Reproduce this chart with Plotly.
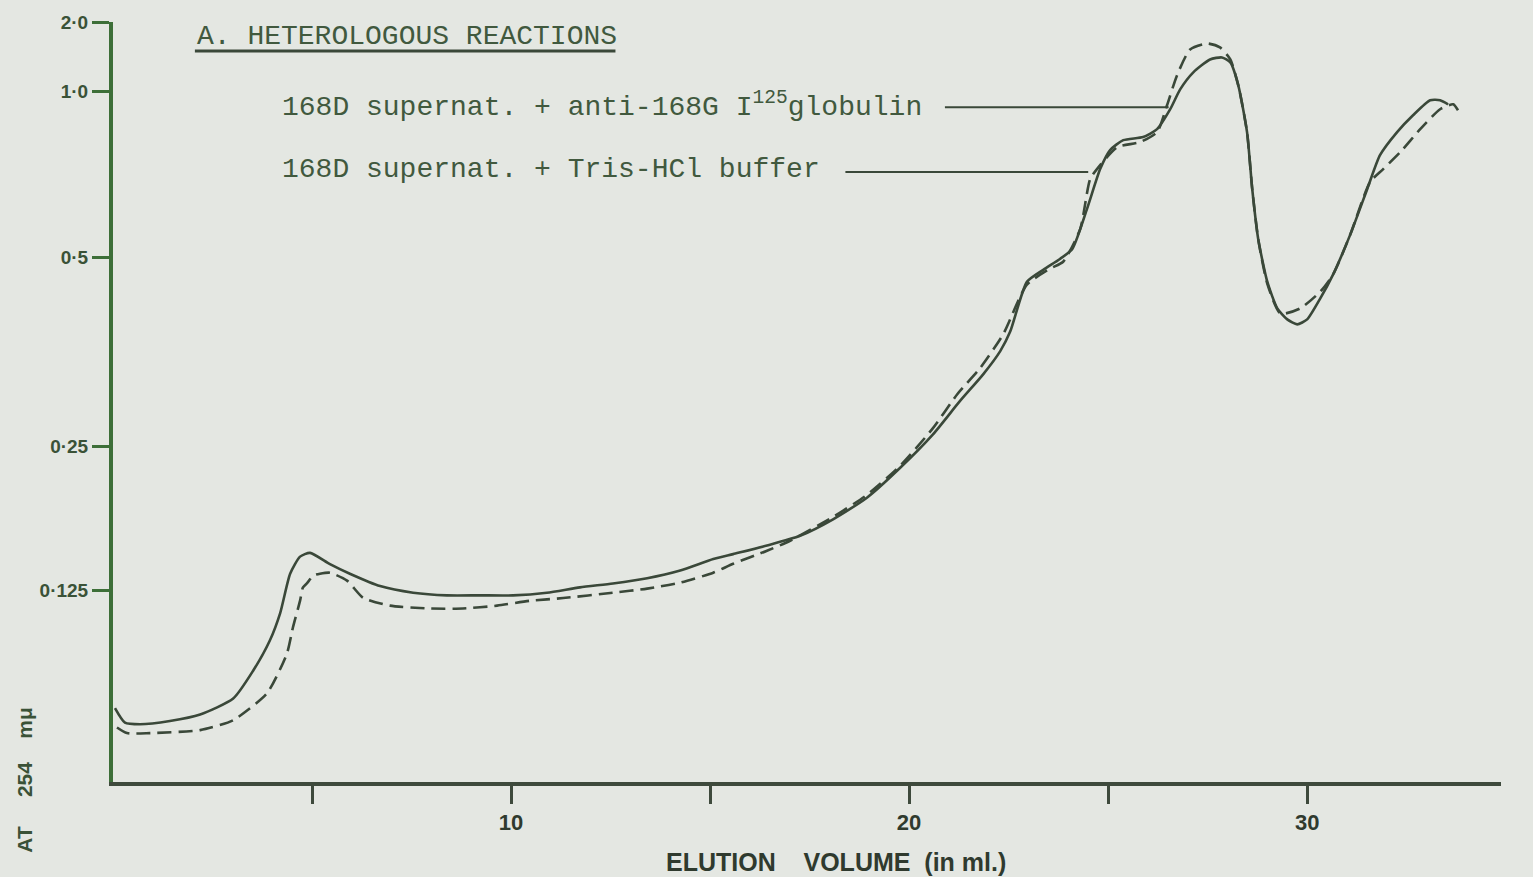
import numpy as np
import plotly.graph_objects as go

# ---- data (elution volume in ml, absorbance at 254 mμ) ----
vol_globulin = [0.05, 0.30, 0.68, 1.43, 2.19, 3.02, 3.52, 3.94, 4.20, 4.45, 4.70, 4.95, 5.45, 5.95,
                6.71, 7.54, 8.39, 9.22, 10.05, 10.90, 11.73, 12.56, 13.42, 14.25, 15.08, 15.58,
                16.43, 17.26, 18.09, 18.94, 19.77, 20.60, 21.28, 21.86, 22.29, 22.54, 22.96, 23.37,
                23.79, 24.10, 24.47, 24.80, 25.05, 25.38, 25.88, 26.23, 26.56, 26.81, 27.14, 27.56,
                27.86, 28.07, 28.27, 28.49, 28.62, 28.77, 29.00, 29.25, 29.50, 29.75, 30.00, 30.33,
                30.65, 31.08, 31.51, 31.83, 32.26, 32.66, 33.09, 33.34, 33.54]
abs_globulin = [0.044, 0.035, 0.034, 0.036, 0.040, 0.050, 0.068, 0.0885, 0.108, 0.1375, 0.151, 0.154,
                0.145, 0.1375, 0.128, 0.123, 0.121, 0.121, 0.121, 0.123, 0.127, 0.130, 0.134, 0.140,
                0.149, 0.153, 0.160, 0.168, 0.182, 0.201, 0.2285, 0.262, 0.298, 0.329, 0.358, 0.384,
                0.458, 0.478, 0.497, 0.515, 0.5965, 0.696, 0.753, 0.786, 0.797, 0.826, 0.909, 1.011,
                1.123, 1.233, 1.253, 1.205, 1.035, 0.815, 0.6435, 0.534, 0.458, 0.417, 0.401, 0.394,
                0.401, 0.432, 0.470, 0.542, 0.6435, 0.737, 0.815, 0.882, 0.952, 0.952, 0.932]

vol_buffer = [0.10, 0.35, 0.93, 2.19, 3.02, 3.87, 4.37, 4.52, 4.70, 4.77, 4.87, 5.03, 5.20, 5.45,
              5.88, 6.28, 6.96, 7.96, 8.79, 9.65, 10.48, 11.31, 12.56, 13.42, 14.25, 15.08, 15.58,
              16.43, 17.01, 18.09, 18.94, 19.77, 20.60, 21.21, 21.78, 22.36, 22.96, 23.54, 23.87,
              24.30, 24.55, 24.80, 25.23, 25.80, 26.23, 26.48, 26.73, 27.06, 27.49, 27.81, 28.07,
              28.27, 28.49, 28.62, 28.77, 29.00, 29.33, 29.82, 30.33, 30.65, 31.08, 31.58, 31.91,
              32.34, 32.84, 33.34, 33.67, 33.79]
abs_buffer = [0.032, 0.0286, 0.0286, 0.0304, 0.0365, 0.0534, 0.0796, 0.0976, 0.1171, 0.1268, 0.130,
              0.136, 0.1375, 0.1383, 0.1322, 0.1193, 0.1134, 0.1113, 0.1113, 0.1134, 0.117, 0.119,
              0.123, 0.1261, 0.1306, 0.1383, 0.1453, 0.1557, 0.1639, 0.184, 0.2035, 0.2304, 0.2685,
              0.3056, 0.3363, 0.380, 0.4535, 0.480, 0.492, 0.554, 0.669, 0.7075, 0.7626, 0.7793,
              0.815, 0.9275, 1.101, 1.342, 1.424, 1.368, 1.233, 1.035, 0.815, 0.6435, 0.534, 0.455,
              0.4094, 0.4167, 0.4425, 0.470, 0.542, 0.661, 0.696, 0.7466, 0.8258, 0.9088, 0.932, 0.904]

y_tick_abs = [2.0, 1.0, 0.5, 0.25, 0.125]
y_tick_text = ["2·0", "1·0", "0·5", "0·25", "0·125"]
x_major_ticks = [10, 20, 30]
x_major_text = ["10", "20", "30"]

label_globulin = "168D supernat. + anti-168G I<sup>125</sup>globulin"
label_buffer = "168D supernat. + Tris-HCl buffer"
title_text = "A. HETEROLOGOUS REACTIONS"

# label anchor positions (absorbance level of each label and where its leader meets the curve)
label_abs = [0.918, 0.688]
leader_start_x = [20.9, 18.4]
leader_end_x = [26.52, 24.5]


# The absorbance scale is linear in transmittance (T = 10^-A)
def to_T(a):
    return 10.0 ** (-np.asarray(a, dtype=float))


bg = "#e4e7e2"
axis_col = "#3d6f38"
ink = "#3a4839"
text_col = "#41593e"
mono = "Liberation Mono, Courier New, monospace"
sans = "Liberation Sans, Arial, sans-serif"

fig = go.Figure()
fig.add_trace(go.Scatter(x=vol_globulin, y=to_T(abs_globulin), mode="lines",
                         line=dict(color=ink, width=2.6, shape="spline", smoothing=0.6),
                         hoverinfo="skip", showlegend=False))
fig.add_trace(go.Scatter(x=vol_buffer, y=to_T(abs_buffer), mode="lines",
                         line=dict(color=ink, width=2.6, dash="14px,7px", shape="spline", smoothing=0.6),
                         hoverinfo="skip", showlegend=False))

for lab, a, xs, xe in zip([label_globulin, label_buffer], label_abs, leader_start_x, leader_end_x):
    t = float(to_T(a))
    fig.add_shape(type="line", xref="x", yref="y", x0=xs, x1=xe, y0=t, y1=t,
                  line=dict(color=ink, width=2))
    fig.add_annotation(text=lab, xref="x", yref="y", x=4.2, y=t,
                       xanchor="left", yanchor="middle", showarrow=False, yshift=2,
                       font=dict(family=mono, size=28, color=text_col))

# title with underline
fig.add_annotation(text=title_text, xref="paper", yref="paper", x=0.059, y=0.981,
                   xanchor="left", yanchor="middle", showarrow=False,
                   font=dict(family=mono, size=28, color=text_col))
fig.add_shape(type="line", xref="paper", yref="paper", x0=0.059, x1=0.362, y0=0.962, y1=0.962,
              line=dict(color=ink, width=3))

# axis titles
fig.add_annotation(text="ELUTION&nbsp;&nbsp;&nbsp; VOLUME&nbsp; (in ml.)", xref="paper", yref="paper",
                   x=0.521, y=-0.105, xanchor="center", yanchor="middle", showarrow=False,
                   font=dict(family=sans, size=25, color="#2f3a2e", weight="bold"))
fig.add_annotation(text="AT&nbsp;&nbsp;&nbsp;&nbsp; 254&nbsp;&nbsp;&nbsp; mμ", xref="paper", yref="paper",
                   x=-0.0634, y=0.003, xanchor="center", yanchor="middle", showarrow=False,
                   textangle=-90,
                   font=dict(family=sans, size=21, color="#3a5237", weight="bold"))

fig.update_xaxes(range=[0, 34.87], showline=True, linecolor="#3e4a3c", linewidth=4,
                 showgrid=False, zeroline=False, ticks="outside", ticklen=18, tickwidth=3,
                 tickcolor="#3e4a3c", tickvals=x_major_ticks, ticktext=x_major_text,
                 minor=dict(tick0=5, dtick=10, ticks="outside", ticklen=18, tickwidth=3,
                            tickcolor="#3e4a3c", showgrid=False),
                 tickfont=dict(family=sans, size=22, color="#2f3a2e", weight="bold"))
fig.update_yaxes(range=[1.0, 0.0097], showline=True, linecolor=axis_col, linewidth=4,
                 showgrid=False, zeroline=False, ticks="outside", ticklen=17, tickwidth=3,
                 tickcolor=axis_col, tickvals=list(to_T(y_tick_abs)), ticktext=y_tick_text,
                 tickfont=dict(family=sans, size=19, color="#3a5237", weight="bold"))

fig.update_layout(width=1533, height=877, paper_bgcolor=bg, plot_bgcolor=bg,
                  margin=dict(l=113, r=32, t=20, b=95), showlegend=False)

fig.write_html("out.html")
